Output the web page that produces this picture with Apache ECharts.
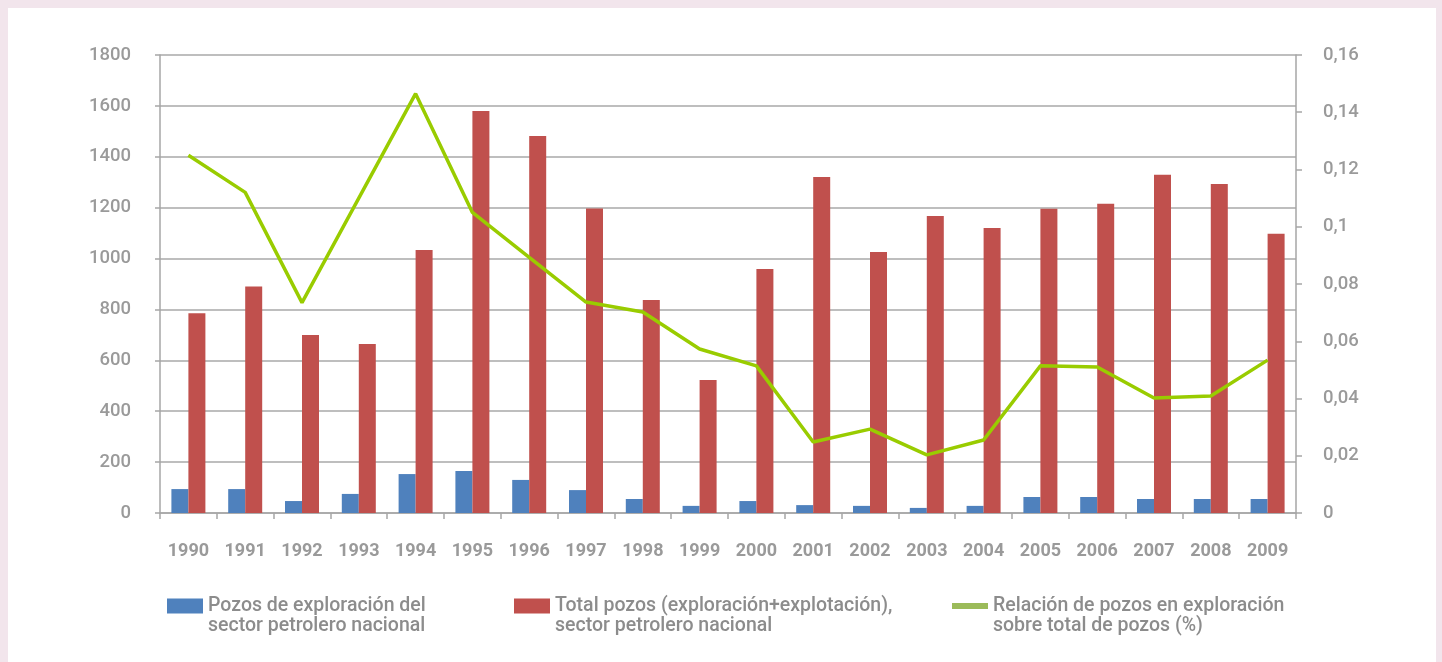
<!DOCTYPE html>
<html>
<head>
<meta charset="utf-8">
<script src="https://cdn.jsdelivr.net/npm/echarts@6/dist/echarts.min.js"></script>
<style>
    html, body { margin: 0; padding: 0; background: #f2e5ec; }
    #panel { position: absolute; left: 8px; top: 8px; width: 1428px; height: 654px; background: #fff; }
    #chart { position: absolute; left: 0; top: 0; width: 1442px; height: 662px; }
</style>
</head>
<body>
<div id="panel"></div>
<div id="chart"></div>
<script>
// 年份（X轴分类）
var years = ["1990", "1991", "1992", "1993", "1994", "1995", "1996", "1997", "1998", "1999",
    "2000", "2001", "2002", "2003", "2004", "2005", "2006", "2007", "2008", "2009"];

// 勘探井数量
var exploracion = [94, 94, 47, 75, 153, 165, 130, 90, 55, 28,
    47, 31, 28, 20, 28, 63, 63, 55, 55, 55];

// 总井数（勘探+开采）
var total = [785, 890, 700, 664, 1034, 1580, 1482, 1197, 837, 523,
    959, 1321, 1026, 1167, 1120, 1196, 1215, 1329, 1293, 1097];

// 勘探井占比
var relacion = [0.125, 0.112, 0.0735, 0.110, 0.1465, 0.105, 0.0893, 0.0737, 0.0702, 0.0573,
    0.0514, 0.0248, 0.0293, 0.0203, 0.0255, 0.0514, 0.0510, 0.0402, 0.0409, 0.0534];

// 图例名称
var names = [
    "Pozos de exploración del\nsector petrolero nacional",
    "Total pozos (exploración+explotación),\nsector petrolero nacional",
    "Relación de pozos en exploración\nsobre total de pozos (%)"
];

var grey = "#9a9a9a";

function legendAt(left, name, icon, color) {
    return {
        left: left,
        top: 576,
        padding: 0,
        itemWidth: 36,
        itemHeight: 15,
        itemGap: 0,
        selectedMode: false,
        data: [{ name: name, icon: icon, itemStyle: { color: color, borderWidth: 0 } }],
        // 前面加一个空行，让第一行文字和色块对齐
        formatter: function(n) { return " \n" + n; },
        textStyle: {
            color: "#8c8c8c",
            fontFamily: "Roboto, sans-serif",
            fontWeight: 500,
            fontSize: 19.5,
            lineHeight: 20
        }
    };
}

var myChart = echarts.init(document.getElementById("chart"));
var option = {
    animation: false,
    grid: { left: 160, right: 146, top: 55, bottom: 149 },
    legend: [
        legendAt(167, names[0], "rect", "#4f81bd"),
        legendAt(514, names[1], "rect", "#c0504d"),
        legendAt(952, names[2], "path://M0,0L36,0L36,6L0,6Z", "#9bbb59")
    ],
    xAxis: {
        type: "category",
        data: years,
        axisLine: { lineStyle: { color: "#a6a6a6", width: 1.5 } },
        axisTick: { show: true, length: 6, lineStyle: { color: "#a6a6a6", width: 1.5 } },
        axisLabel: {
            interval: 0,
            color: grey,
            fontFamily: "Roboto, sans-serif",
            fontWeight: "bold",
            fontSize: 18,
            margin: 29
        }
    },
    yAxis: [{
        type: "value",
        min: 0,
        max: 1800,
        interval: 200,
        axisLine: { show: true, lineStyle: { color: "#a6a6a6", width: 1.5 } },
        axisTick: { show: true, length: 5, lineStyle: { color: "#a6a6a6", width: 1.5 } },
        axisLabel: {
            color: grey,
            fontFamily: "Roboto, sans-serif",
            fontWeight: 500,
            fontSize: 18.5,
            margin: 29,
            formatter: function(v) { return String(v); }
        },
        splitLine: { lineStyle: { color: "#a8a8a8", width: 1.5 } }
    }, {
        type: "value",
        min: 0,
        max: 0.16,
        interval: 0.02,
        position: "right",
        axisLine: { show: true, lineStyle: { color: "#a6a6a6", width: 1.5 } },
        axisTick: { show: true, length: 6, lineStyle: { color: "#a6a6a6", width: 1.5 } },
        axisLabel: {
            color: grey,
            fontFamily: "Roboto, sans-serif",
            fontWeight: 500,
            fontSize: 18.5,
            margin: 27,
            formatter: function(v) {
                return String(parseFloat(v.toFixed(2))).replace(".", ",");
            }
        },
        splitLine: { show: false }
    }],
    series: [{
        name: names[0],
        type: "bar",
        data: exploracion,
        barWidth: 17,
        barGap: "0%",
        itemStyle: { color: "#4f81bd" }
    }, {
        name: names[1],
        type: "bar",
        data: total,
        barWidth: 17,
        barGap: "0%",
        itemStyle: { color: "#c0504d" }
    }, {
        name: names[2],
        type: "line",
        yAxisIndex: 1,
        data: relacion,
        symbol: "none",
        lineStyle: { color: "#99cc00", width: 3.5 },
        itemStyle: { color: "#99cc00" }
    }]
};
myChart.setOption(option);
</script>
</body>
</html>
